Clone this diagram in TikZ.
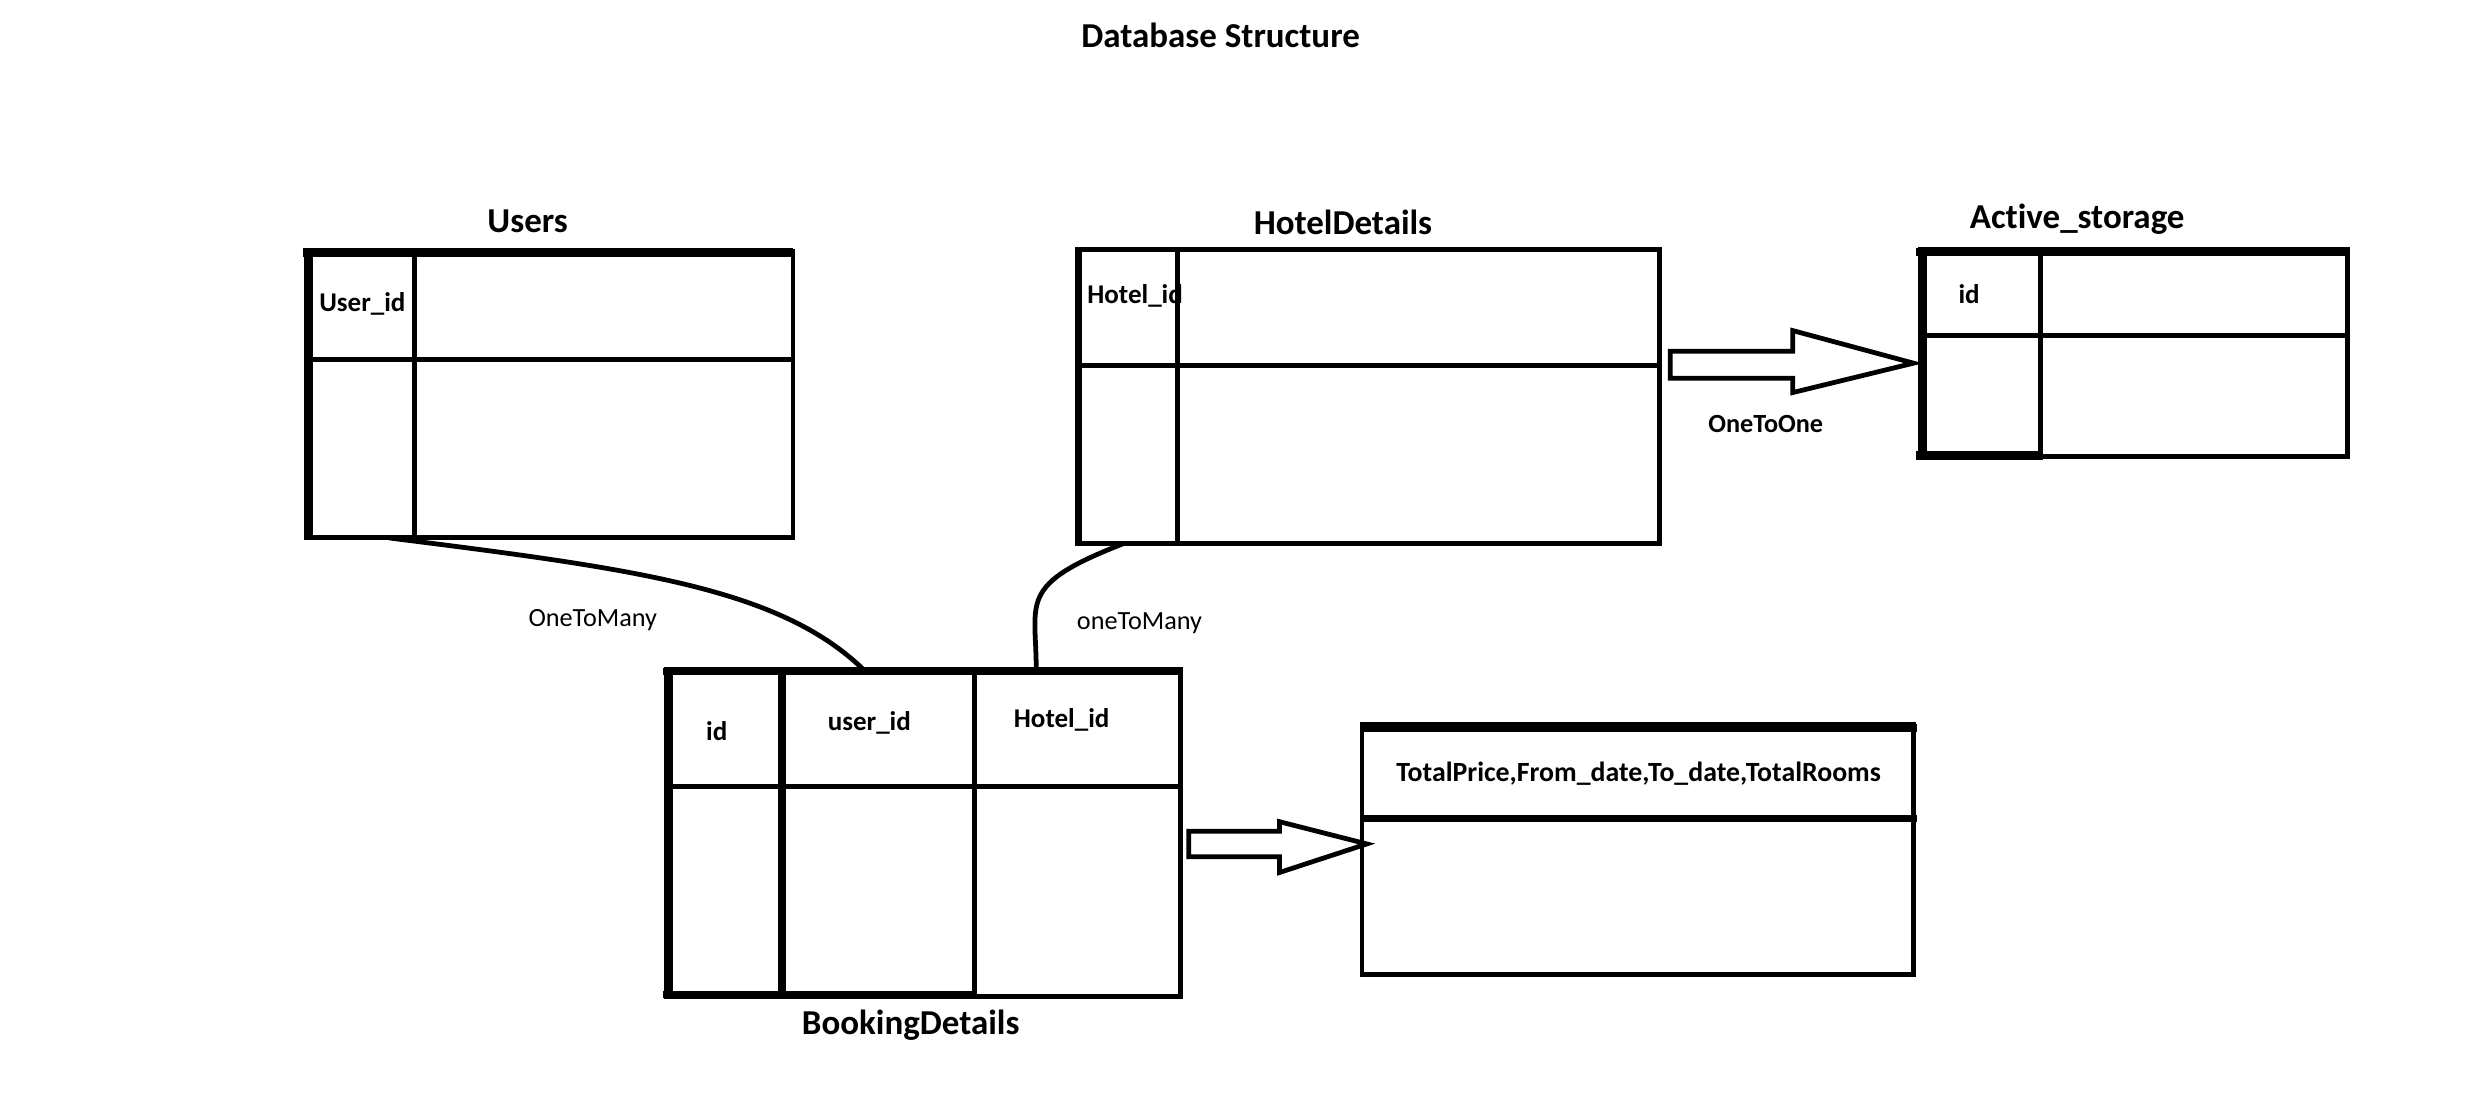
\documentclass[tikz,border=0pt]{standalone}
\usepackage{fontspec}
\setmainfont{Carlito}[Ligatures=NoCommon]
\begin{document}
\tikzset{
  tbl/.style={draw, line width=3pt, inner sep=0pt, outer sep=0pt},
  thk/.style={line width=5.5pt},
  thn/.style={line width=3pt},
  ttl/.style={font=\fontsize{22}{26}\selectfont\bfseries, inner sep=0pt},
  cell/.style={font=\fontsize{17}{20}\selectfont\bfseries, inner sep=0pt},
  rel/.style={font=\fontsize{16.5}{20}\selectfont, inner sep=0pt},
  relb/.style={font=\fontsize{16.5}{20}\selectfont\bfseries, inner sep=0pt},
  blk/.style={draw, line width=3pt, fill=white, line join=miter},
  conn/.style={line width=3pt}
}
\begin{tikzpicture}[x=1pt,y=-1pt]
\useasboundingbox (0,0) rectangle (1568,704);
\fill[white] (0,0) rectangle (1568,704);

% title
\node[ttl] (title) at (768,22) {Database Structure};

% Users
\node[ttl] (usersT) at (332,139) {Users};
\node[tbl, minimum width=306pt, minimum height=180pt] (users) at (346,248) {};
\draw[thn] (261,158) -- (261,338);
\draw[thn] (193,226) -- (499,226);
\draw[thk] (190.5,159) -- (499,159);
\draw[thk] (194,156.5) -- (194,338);
\node[cell] (uid) at (228,191) {User\_id};

% HotelDetails
\node[ttl] (hotelT) at (845,140) {HotelDetails};
\node[tbl, minimum width=366pt, minimum height=185pt] (hotel) at (861,249.5) {};
\draw[thn] (741,157) -- (741,342);
\draw[thn] (678,230) -- (1044,230);
\draw[line width=4pt] (679,157) -- (679,342);
\node[cell, anchor=west] (hid) at (684,186) {Hotel\_id};

% Active_storage
\node[ttl] (activeT) at (1307,138) {Active\_storage};
\node[tbl, minimum width=269pt, minimum height=130pt] (active) at (1342.5,222) {};
\draw[thn] (1284,157) -- (1284,287);
\draw[thn] (1208,211) -- (1477,211);
\draw[thk] (1205.5,158.5) -- (1477,158.5);
\draw[thk] (1209.5,157) -- (1209.5,287);
\draw[thk] (1205.5,286.5) -- (1285.5,286.5);
\node[cell] (aid) at (1239,185) {id};

% Arrow OneToOne (HotelDetails -> Active_storage)
\coordinate (a1) at (1051,229.5);
\draw[blk] (a1) ++(0,-8.5) -- ++(77,0) -- ++(0,-13) -- ++(76,20.5) -- ++(-76,18.5) -- ++(0,-9) -- ++(-77,0) -- cycle;
\node[relb] (o2o) at (1111,267) {OneToOne};

% BookingDetails
\node[ttl] (bookT) at (573,645) {BookingDetails};
\node[tbl, minimum width=324pt, minimum height=206pt] (book) at (581,524) {};
\draw[line width=4.5pt] (492,421) -- (492,627);
\draw[thn] (613,421) -- (613,627);
\draw[thn] (419,495) -- (743,495);
\draw[line width=4.5pt] (417,422.5) -- (743,422.5);
\draw[thk] (420.5,421) -- (420.5,627);
\draw[line width=4.5pt] (417,626) -- (613,626);
\node[cell] (bid) at (451,460) {id};
\node[cell] (buid) at (547,455) {user\_id};
\node[cell] (bhid) at (668,453) {Hotel\_id};

% TotalPrice box
\node[tbl, minimum width=347pt, minimum height=157pt] (price) at (1030.5,534.5) {};
\draw[line width=4.5pt] (857,515) -- (1206,515);
\draw[thk] (855.5,458) -- (1206,458);
\node[cell, font=\fontsize{17.5}{20}\selectfont\bfseries] (ptxt) at (1031,487) {TotalPrice,From\_date,To\_date,TotalRooms};

% Arrow BookingDetails -> price box
\coordinate (a2) at (748,531);
\draw[blk] (a2) ++(0,-8) -- ++(57,0) -- ++(0,-6) -- ++(55,14) -- ++(-55,18) -- ++(0,-10) -- ++(-57,0) -- cycle;

% OneToMany connectors
\coordinate (u1) at (245,338.5);
\coordinate (b1) at (543,421);
\draw[conn] (u1) .. controls (400,358) and (490,370) .. (b1);
\node[rel] (o2m1) at (373,390) {OneToMany};

\coordinate (h1) at (707,342);
\coordinate (b2) at (652,421);
\draw[conn] (h1) .. controls (640,368) and (652,378) .. (b2);
\node[rel] (o2m2) at (717,392) {oneToMany};
\end{tikzpicture}
\end{document}
